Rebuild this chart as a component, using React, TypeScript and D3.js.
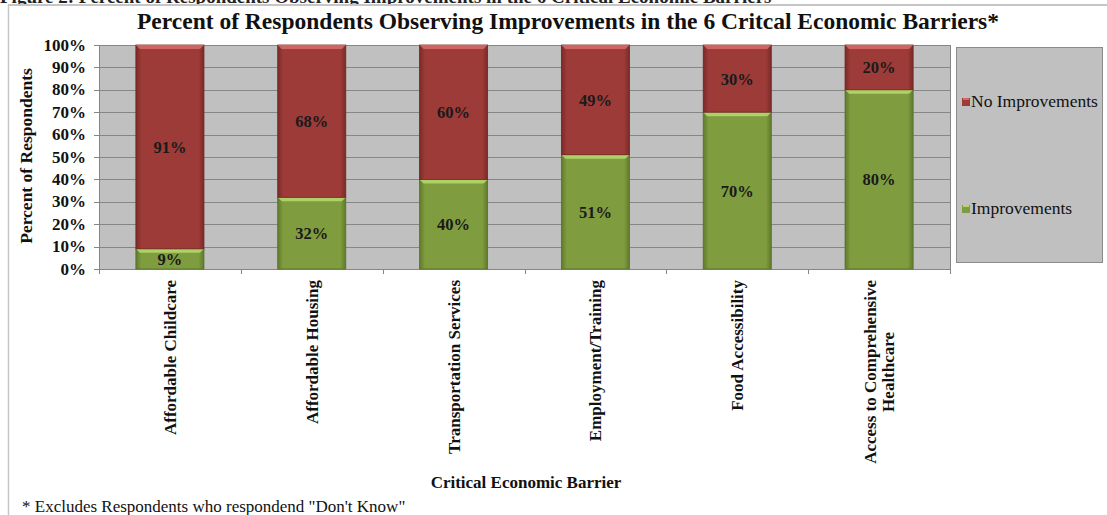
import React, { useEffect, useRef } from "react";
import * as d3 from "d3";

const categories = [
  "Affordable Childcare",
  "Affordable Housing",
  "Transportation Services",
  "Employment/Training",
  "Food Accessibility",
  "Access to Comprehensive Healthcare",
];
const categoryLines = [
  ["Affordable Childcare"],
  ["Affordable Housing"],
  ["Transportation Services"],
  ["Employment/Training"],
  ["Food Accessibility"],
  ["Access to Comprehensive", "Healthcare"],
];
const improvements = [9, 32, 40, 51, 70, 80];
const noImprovements = [91, 68, 60, 49, 30, 20];
const yTicks = [0, 10, 20, 30, 40, 50, 60, 70, 80, 90, 100];
const seriesNames = ["No Improvements", "Improvements"];

const W = 1107;
const H = 515;
const FONT = "'Liberation Serif', 'DejaVu Serif', serif";

export default function App() {
  const ref = useRef<SVGSVGElement>(null);

  useEffect(() => {
    const svg = d3.select(ref.current);
    svg.selectAll("*").remove();

    const defs = svg.append("defs");
    const mkGrad = (id: string, edge: string, mid: string) => {
      const g = defs.append("linearGradient").attr("id", id).attr("x1", 0).attr("x2", 1).attr("y1", 0).attr("y2", 0);
      g.append("stop").attr("offset", "0%").attr("stop-color", edge);
      g.append("stop").attr("offset", "8%").attr("stop-color", mid);
      g.append("stop").attr("offset", "92%").attr("stop-color", mid);
      g.append("stop").attr("offset", "100%").attr("stop-color", edge);
    };
    mkGrad("gRed", "#7a2a28", "#9d3b38");
    mkGrad("gGreen", "#5f7a2c", "#7f9d3f");

    // cropped caption at very top
    svg.append("text")
      .attr("x", 0).attr("y", 3)
      .attr("font-family", FONT).attr("font-weight", "bold").attr("font-size", 19)
      .attr("fill", "#222")
      .text("Figure 2: Percent of Respondents Observing Improvements in the 6 Critical Economic Barriers");

    // outer frame
    svg.append("rect").attr("x", 8).attr("y", 4).attr("width", W).attr("height", H).attr("fill", "#fff");
    svg.append("line").attr("x1", 8).attr("x2", W).attr("y1", 5).attr("y2", 5).attr("stroke", "#c6c6c6").attr("stroke-width", 2);
    svg.append("line").attr("x1", 8.5).attr("x2", 8.5).attr("y1", 5).attr("y2", H).attr("stroke", "#c6c6c6").attr("stroke-width", 1.5);

    // title
    svg.append("text")
      .attr("x", 568).attr("y", 29)
      .attr("text-anchor", "middle")
      .attr("font-family", FONT).attr("font-weight", "bold").attr("font-size", 23.5)
      .attr("fill", "#111")
      .text("Percent of Respondents Observing Improvements in the 6 Critcal Economic Barriers*");

    const x = d3.scaleBand<string>().domain(categories).range([99, 950]).paddingInner(0.52).paddingOuter(0.26);
    const y = d3.scaleLinear().domain([0, 100]).range([269, 45]);

    // plot background
    svg.append("rect").attr("x", 99).attr("y", 45).attr("width", 851).attr("height", 224).attr("fill", "#c0c0c0");

    // gridlines
    svg.append("g").selectAll("line").data(yTicks).join("line")
      .attr("x1", 99).attr("x2", 950)
      .attr("y1", (d) => Math.round(y(d)) + 0.5).attr("y2", (d) => Math.round(y(d)) + 0.5)
      .attr("stroke", "#868686").attr("stroke-width", 1);
    svg.append("line").attr("x1", 950.5).attr("x2", 950.5).attr("y1", 45).attr("y2", 269).attr("stroke", "#868686");

    // y axis
    const yAxis = svg.append("g");
    yAxis.append("line").attr("x1", 99.5).attr("x2", 99.5).attr("y1", 45).attr("y2", 269).attr("stroke", "#868686");
    yAxis.selectAll("line.tick").data(yTicks).join("line").attr("class", "tick")
      .attr("x1", 94).attr("x2", 99)
      .attr("y1", (d) => Math.round(y(d)) + 0.5).attr("y2", (d) => Math.round(y(d)) + 0.5)
      .attr("stroke", "#868686");
    yAxis.selectAll("text").data(yTicks).join("text")
      .attr("x", 86).attr("y", (d) => y(d) + 5.5)
      .attr("text-anchor", "end")
      .attr("font-family", FONT).attr("font-weight", "bold").attr("font-size", 17)
      .attr("fill", "#111")
      .text((d) => d + "%");

    // x axis ticks
    const bounds = d3.range(categories.length + 1).map((i) => 99 + i * x.step());
    svg.append("g").selectAll("line").data(bounds).join("line")
      .attr("x1", (d) => Math.round(d) + 0.5).attr("x2", (d) => Math.round(d) + 0.5)
      .attr("y1", 269).attr("y2", 274)
      .attr("stroke", "#868686");
    svg.append("line").attr("x1", 99).attr("x2", 950).attr("y1", 269.5).attr("y2", 269.5).attr("stroke", "#868686");

    // bars
    const drawSeg = (g: any, x0: number, w: number, yTop: number, yBot: number, grad: string, light: string, stroke: string) => {
      g.append("rect").attr("x", x0).attr("y", yTop).attr("width", w).attr("height", yBot - yTop)
        .attr("fill", `url(#${grad})`).attr("stroke", stroke).attr("stroke-width", 0.8);
      const b = 4;
      g.append("path")
        .attr("d", `M${x0},${yTop} L${x0 + w},${yTop} L${x0 + w - b},${yTop + b} L${x0 + b},${yTop + b} Z`)
        .attr("fill", light).attr("opacity", 0.9);
    };
    const bars = svg.append("g");
    categories.forEach((c, i) => {
      const x0 = x(c)!;
      const w = x.bandwidth();
      const g = bars.append("g");
      drawSeg(g, x0, w, y(improvements[i]), y(0), "gGreen", "#b5d56c", "#55702a");
      drawSeg(g, x0, w, y(100), y(improvements[i]), "gRed", "#d46a66", "#6e2523");
      const lab = (v: number, a: number, b: number) =>
        g.append("text")
          .attr("x", x0 + w / 2).attr("y", (y(a) + y(b)) / 2 + 6)
          .attr("text-anchor", "middle")
          .attr("font-family", FONT).attr("font-weight", "bold").attr("font-size", 16.5)
          .attr("fill", "#1a1a1a")
          .text(v + "%");
      lab(improvements[i], 0, improvements[i]);
      lab(noImprovements[i], improvements[i], 100);
    });

    // x category labels
    const xl = svg.append("g");
    categories.forEach((c, i) => {
      const lines = categoryLines[i];
      const cx = x(c)! + x.bandwidth() / 2;
      const t = xl.append("text")
        .attr("font-family", FONT).attr("font-weight", "bold").attr("font-size", 17)
        .attr("fill", "#111");
      const tmp = t.append("tspan").text(lines[0]);
      const len0 = (tmp.node() as SVGTextContentElement).getComputedTextLength();
      tmp.remove();
      const center = 280 + len0 / 2;
      const n = lines.length;
      lines.forEach((ln, j) => {
        const off = (j - (n - 1) / 2) * 18 + 6;
        xl.append("text")
          .attr("transform", `translate(${cx + off},${center}) rotate(-90)`)
          .attr("text-anchor", "middle")
          .attr("font-family", FONT).attr("font-weight", "bold").attr("font-size", 17)
          .attr("fill", "#111")
          .text(ln);
      });
      t.remove();
    });

    // axis titles
    svg.append("text")
      .attr("transform", `translate(32,156) rotate(-90)`)
      .attr("text-anchor", "middle")
      .attr("font-family", FONT).attr("font-weight", "bold").attr("font-size", 17.5)
      .attr("fill", "#111")
      .text("Percent of Respondents");
    svg.append("text")
      .attr("x", 526).attr("y", 488)
      .attr("text-anchor", "middle")
      .attr("font-family", FONT).attr("font-weight", "bold").attr("font-size", 17)
      .attr("fill", "#111")
      .text("Critical Economic Barrier");

    // footnote
    svg.append("text")
      .attr("x", 22).attr("y", 512)
      .attr("font-family", FONT).attr("font-size", 17)
      .attr("fill", "#111")
      .text('* Excludes Respondents who respondend "Don\'t Know"');

    // legend
    const lg = svg.append("g");
    lg.append("rect").attr("x", 956.5).attr("y", 47.5).attr("width", 146).attr("height", 215)
      .attr("fill", "#c0c0c0").attr("stroke", "#8a8a8a");
    const legColors = [["#9d3b38", "#d46a66"], ["#7f9d3f", "#b5d56c"]];
    const legY = [102, 209];
    seriesNames.forEach((s, i) => {
      lg.append("rect").attr("x", 962).attr("y", legY[i] - 4).attr("width", 8).attr("height", 8).attr("fill", legColors[i][0]);
      lg.append("rect").attr("x", 963).attr("y", legY[i] - 4).attr("width", 6).attr("height", 2).attr("fill", legColors[i][1]);
      lg.append("text").attr("x", 971).attr("y", legY[i] + 5)
        .attr("font-family", FONT).attr("font-size", 17.5).attr("fill", "#111")
        .text(s);
    });
  }, []);

  return (
    <svg ref={ref} width={W} height={H} style={{ position: "absolute", left: 0, top: 0, background: "#fff" }} />
  );
}
